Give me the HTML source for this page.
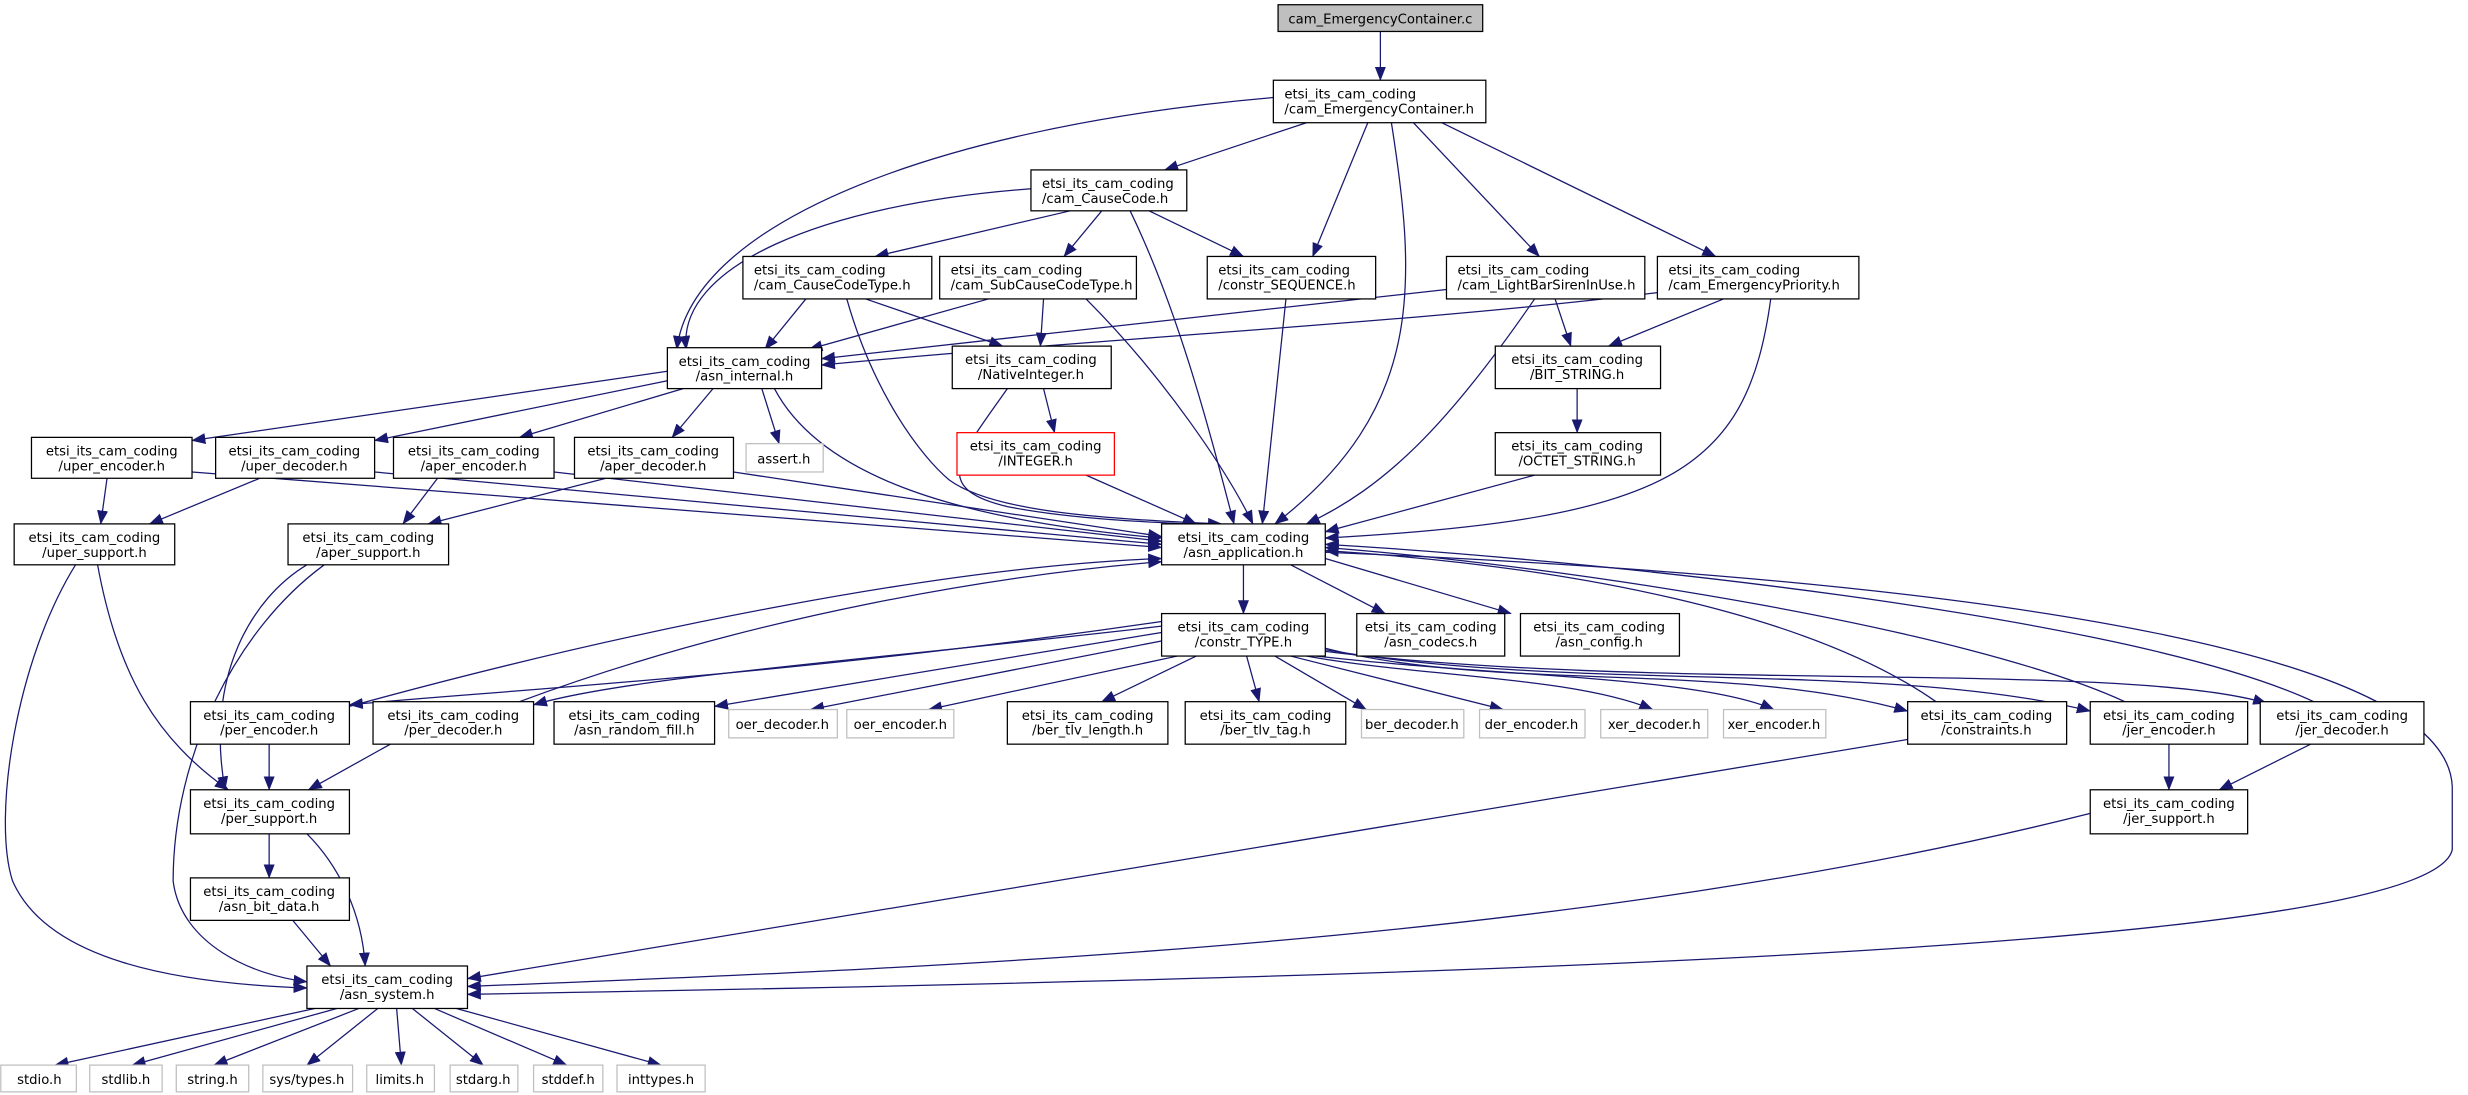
<!DOCTYPE html>
<html><head><meta charset="utf-8"><style>
html,body{margin:0;padding:0;background:#fff;}
svg{display:block;}
text{font-family:"DejaVu Sans","Liberation Sans",sans-serif;font-size:8.4px;fill:#000;}
.n{fill:#fff;stroke:#000;stroke-width:0.8;}
.g{fill:#fff;stroke:#bfbfbf;stroke-width:0.8;}
.e{fill:none;stroke:#191970;stroke-width:0.8;}
</style></head><body>
<svg width="2468" height="1095" viewBox="0 0 1568 696" preserveAspectRatio="none" xmlns="http://www.w3.org/2000/svg">
<defs><marker id="a" markerUnits="userSpaceOnUse" markerWidth="9" markerHeight="7" refX="8.5" refY="3.5" orient="auto"><path d="M0,0 L9,3.5 L0,7 z" fill="#191970"/></marker></defs>
<g marker-end="url(#a)">
<path class="e" d="M877,20 L877,51"/>
<path class="e" d="M809,62 C600,80 440,140 430,222"/>
<path class="e" d="M830,78 L740,108"/>
<path class="e" d="M869,78 L834,163"/>
<path class="e" d="M884,78 C900,180 905,260 810,333"/>
<path class="e" d="M898,78 L978,163"/>
<path class="e" d="M916,78 L1090,163"/>
<path class="e" d="M655,120 C520,130 430,170 436,222"/>
<path class="e" d="M680,134 L556,163"/>
<path class="e" d="M700,134 L676,163"/>
<path class="e" d="M718,134 C750,200 770,280 784,333"/>
<path class="e" d="M730,134 L790,163"/>
<path class="e" d="M512,190 L486,222"/>
<path class="e" d="M550,190 L637,220"/>
<path class="e" d="M538,190 C555,250 585,290 603,305 C630,325 700,330 776,333"/>
<path class="e" d="M628,190 L514,222"/>
<path class="e" d="M663,190 L661,220"/>
<path class="e" d="M690,190 C740,240 780,300 796,333"/>
<path class="e" d="M817,190 L802,333"/>
<path class="e" d="M919,184 L522,228"/>
<path class="e" d="M988,190 L998,220"/>
<path class="e" d="M975,190 C920,270 880,310 830,333"/>
<path class="e" d="M1053,186 C900,205 700,215 522,232"/>
<path class="e" d="M1095,190 L1022,220"/>
<path class="e" d="M1125,190 C1110,300 1060,330 842,342"/>
<path class="e" d="M663,247 L670,275"/>
<path class="e" d="M640,247 C610,290 590,310 640,322 C680,330 730,332 778,334"/>
<path class="e" d="M690,302 L760,333"/>
<path class="e" d="M1002,247 L1002,275"/>
<path class="e" d="M975,302 L842,338"/>
<path class="e" d="M424,236 L122,280"/>
<path class="e" d="M424,242 L238,280"/>
<path class="e" d="M434,247 L330,278"/>
<path class="e" d="M453,247 L427,278"/>
<path class="e" d="M484,247 L495,282"/>
<path class="e" d="M492,247 C520,300 600,330 738,342"/>
<path class="e" d="M122,300 L738,348"/>
<path class="e" d="M238,300 L738,346"/>
<path class="e" d="M352,300 L738,344"/>
<path class="e" d="M466,300 L738,341"/>
<path class="e" d="M68,304 L64,333"/>
<path class="e" d="M165,304 L95,333"/>
<path class="e" d="M278,304 L256,333"/>
<path class="e" d="M385,304 L272,333"/>
<path class="e" d="M48,359 C10,420 -5,520 8,560 C30,610 110,625 195,628"/>
<path class="e" d="M62,359 C75,430 100,470 145,502"/>
<path class="e" d="M195,359 C160,380 130,430 143,502"/>
<path class="e" d="M206,359 C150,400 110,480 110,560 C115,600 160,620 195,624"/>
<path class="e" d="M171,530 L171,558"/>
<path class="e" d="M195,530 C215,550 230,580 232,614"/>
<path class="e" d="M186,585 L210,614"/>
<path class="e" d="M790,359 L790,390"/>
<path class="e" d="M820,359 L880,390"/>
<path class="e" d="M842,355 L960,390"/>
<path class="e" d="M738,395 C500,430 300,440 222,448"/>
<path class="e" d="M738,398 C550,420 400,430 339,448"/>
<path class="e" d="M738,402 L454,449"/>
<path class="e" d="M740,407 L515,451"/>
<path class="e" d="M748,417 L590,451"/>
<path class="e" d="M760,417 L700,446"/>
<path class="e" d="M792,417 L800,446"/>
<path class="e" d="M810,417 L868,451"/>
<path class="e" d="M820,417 L955,451"/>
<path class="e" d="M830,417 C900,430 1000,430 1050,451"/>
<path class="e" d="M836,417 C950,430 1080,430 1127,451"/>
<path class="e" d="M842,412 C950,440 1100,420 1212,452"/>
<path class="e" d="M842,413 C1000,440 1200,420 1328,452"/>
<path class="e" d="M842,414 C1050,440 1350,420 1440,447"/>
<path class="e" d="M222,449 C400,400 600,360 738,355"/>
<path class="e" d="M330,446 C480,390 640,365 738,357"/>
<path class="e" d="M1230,446 C1150,390 1000,360 842,350"/>
<path class="e" d="M1350,446 C1250,400 1000,360 842,348"/>
<path class="e" d="M1470,446 C1350,390 1000,355 842,346"/>
<path class="e" d="M842,351 C1300,370 1555,420 1558,500 L1558,540 C1545,600 1000,620 297,632"/>
<path class="e" d="M1212,470 L297,622"/>
<path class="e" d="M1328,517 C1000,600 600,615 297,627"/>
<path class="e" d="M171,473 L171,502"/>
<path class="e" d="M248,473 L196,502"/>
<path class="e" d="M1378,473 L1378,502"/>
<path class="e" d="M1468,473 L1410,502"/>
<path class="e" d="M200,641 L35,677"/>
<path class="e" d="M214,641 L84,677"/>
<path class="e" d="M228,641 L136,677"/>
<path class="e" d="M240,641 L195,677"/>
<path class="e" d="M252,641 L255,677"/>
<path class="e" d="M262,641 L307,677"/>
<path class="e" d="M276,641 L360,677"/>
<path class="e" d="M290,641 L420,677"/>
</g>
<rect x="812" y="3" width="130" height="17" fill="#bfbfbf" stroke="#000" stroke-width="0.8"/><text x="877" y="15" text-anchor="middle">cam_EmergencyContainer.c</text>
<g>
<rect class="n" x="809" y="51" width="135" height="27"/><text x="816" y="62.5">etsi_its_cam_coding</text><text x="816" y="72">/cam_EmergencyContainer.h</text>
<rect class="n" x="655" y="108" width="99" height="26"/><text x="662" y="119.5">etsi_its_cam_coding</text><text x="662" y="129">/cam_CauseCode.h</text>
<rect class="n" x="472" y="163" width="120" height="27"/><text x="479" y="174.5">etsi_its_cam_coding</text><text x="479" y="184">/cam_CauseCodeType.h</text>
<rect class="n" x="597" y="163" width="125" height="27"/><text x="604" y="174.5">etsi_its_cam_coding</text><text x="604" y="184">/cam_SubCauseCodeType.h</text>
<rect class="n" x="767" y="163" width="107" height="27"/><text x="774" y="174.5">etsi_its_cam_coding</text><text x="774" y="184">/constr_SEQUENCE.h</text>
<rect class="n" x="919" y="163" width="126" height="27"/><text x="926" y="174.5">etsi_its_cam_coding</text><text x="926" y="184">/cam_LightBarSirenInUse.h</text>
<rect class="n" x="1053" y="163" width="128" height="27"/><text x="1060" y="174.5">etsi_its_cam_coding</text><text x="1060" y="184">/cam_EmergencyPriority.h</text>
</g>
<g text-anchor="middle">
<rect class="n" x="424" y="221" width="98" height="26"/><text x="473" y="232.5">etsi_its_cam_coding</text><text x="473" y="242">/asn_internal.h</text>
<rect class="n" x="605" y="220" width="101" height="27"/><text x="655" y="231.5">etsi_its_cam_coding</text><text x="655" y="241">/NativeInteger.h</text>
<rect class="n" x="950" y="220" width="105" height="27"/><text x="1002" y="231.5">etsi_its_cam_coding</text><text x="1002" y="241">/BIT_STRING.h</text>
<rect x="608" y="275" width="100" height="27" fill="#fff" stroke="#ff0000" stroke-width="0.8"/><text x="658" y="286.5">etsi_its_cam_coding</text><text x="658" y="296">/INTEGER.h</text>
<rect class="n" x="950" y="275" width="105" height="27"/><text x="1002" y="286.5">etsi_its_cam_coding</text><text x="1002" y="296">/OCTET_STRING.h</text>
<rect class="n" x="20" y="278" width="102" height="26"/><text x="71" y="289.5">etsi_its_cam_coding</text><text x="71" y="299">/uper_encoder.h</text>
<rect class="n" x="137" y="278" width="101" height="26"/><text x="187" y="289.5">etsi_its_cam_coding</text><text x="187" y="299">/uper_decoder.h</text>
<rect class="n" x="250" y="278" width="102" height="26"/><text x="301" y="289.5">etsi_its_cam_coding</text><text x="301" y="299">/aper_encoder.h</text>
<rect class="n" x="365" y="278" width="101" height="26"/><text x="415" y="289.5">etsi_its_cam_coding</text><text x="415" y="299">/aper_decoder.h</text>
<rect class="g" x="474" y="282" width="49" height="18"/><text x="498" y="294.5">assert.h</text>
<rect class="n" x="738" y="333" width="104" height="26"/><text x="790" y="344.5">etsi_its_cam_coding</text><text x="790" y="354">/asn_application.h</text>
<rect class="n" x="9" y="333" width="102" height="26"/><text x="60" y="344.5">etsi_its_cam_coding</text><text x="60" y="354">/uper_support.h</text>
<rect class="n" x="183" y="333" width="102" height="26"/><text x="234" y="344.5">etsi_its_cam_coding</text><text x="234" y="354">/aper_support.h</text>
<rect class="n" x="738" y="390" width="104" height="27"/><text x="790" y="401.5">etsi_its_cam_coding</text><text x="790" y="411">/constr_TYPE.h</text>
<rect class="n" x="862" y="390" width="94" height="27"/><text x="909" y="401.5">etsi_its_cam_coding</text><text x="909" y="411">/asn_codecs.h</text>
<rect class="n" x="966" y="390" width="101" height="27"/><text x="1016" y="401.5">etsi_its_cam_coding</text><text x="1016" y="411">/asn_config.h</text>
<rect class="n" x="121" y="446" width="101" height="27"/><text x="171" y="457.5">etsi_its_cam_coding</text><text x="171" y="467">/per_encoder.h</text>
<rect class="n" x="237" y="446" width="102" height="27"/><text x="288" y="457.5">etsi_its_cam_coding</text><text x="288" y="467">/per_decoder.h</text>
<rect class="n" x="352" y="446" width="102" height="27"/><text x="403" y="457.5">etsi_its_cam_coding</text><text x="403" y="467">/asn_random_fill.h</text>
<rect class="g" x="463" y="451" width="69" height="18"/><text x="497" y="463.5">oer_decoder.h</text>
<rect class="g" x="538" y="451" width="68" height="18"/><text x="572" y="463.5">oer_encoder.h</text>
<rect class="n" x="640" y="446" width="102" height="27"/><text x="691" y="457.5">etsi_its_cam_coding</text><text x="691" y="467">/ber_tlv_length.h</text>
<rect class="n" x="753" y="446" width="102" height="27"/><text x="804" y="457.5">etsi_its_cam_coding</text><text x="804" y="467">/ber_tlv_tag.h</text>
<rect class="g" x="865" y="451" width="65" height="18"/><text x="897" y="463.5">ber_decoder.h</text>
<rect class="g" x="940" y="451" width="67" height="18"/><text x="973" y="463.5">der_encoder.h</text>
<rect class="g" x="1017" y="451" width="68" height="18"/><text x="1051" y="463.5">xer_decoder.h</text>
<rect class="g" x="1095" y="451" width="65" height="18"/><text x="1127" y="463.5">xer_encoder.h</text>
<rect class="n" x="1212" y="446" width="101" height="27"/><text x="1262" y="457.5">etsi_its_cam_coding</text><text x="1262" y="467">/constraints.h</text>
<rect class="n" x="1328" y="446" width="100" height="27"/><text x="1378" y="457.5">etsi_its_cam_coding</text><text x="1378" y="467">/jer_encoder.h</text>
<rect class="n" x="1436" y="446" width="104" height="27"/><text x="1488" y="457.5">etsi_its_cam_coding</text><text x="1488" y="467">/jer_decoder.h</text>
<rect class="n" x="121" y="502" width="101" height="28"/><text x="171" y="513.5">etsi_its_cam_coding</text><text x="171" y="523">/per_support.h</text>
<rect class="n" x="1328" y="502" width="100" height="28"/><text x="1378" y="513.5">etsi_its_cam_coding</text><text x="1378" y="523">/jer_support.h</text>
<rect class="n" x="121" y="558" width="101" height="27"/><text x="171" y="569.5">etsi_its_cam_coding</text><text x="171" y="579">/asn_bit_data.h</text>
<rect class="n" x="195" y="614" width="102" height="27"/><text x="246" y="625.5">etsi_its_cam_coding</text><text x="246" y="635">/asn_system.h</text>
<rect class="g" x="0.5" y="677" width="48" height="17"/><text x="25" y="689">stdio.h</text>
<rect class="g" x="57" y="677" width="46" height="17"/><text x="80" y="689">stdlib.h</text>
<rect class="g" x="112" y="677" width="46" height="17"/><text x="135" y="689">string.h</text>
<rect class="g" x="167" y="677" width="57" height="17"/><text x="195" y="689">sys/types.h</text>
<rect class="g" x="233" y="677" width="43" height="17"/><text x="254" y="689">limits.h</text>
<rect class="g" x="286" y="677" width="43" height="17"/><text x="307" y="689">stdarg.h</text>
<rect class="g" x="339" y="677" width="44" height="17"/><text x="361" y="689">stddef.h</text>
<rect class="g" x="392" y="677" width="56" height="17"/><text x="420" y="689">inttypes.h</text>
</g>
</svg>
</body></html>
